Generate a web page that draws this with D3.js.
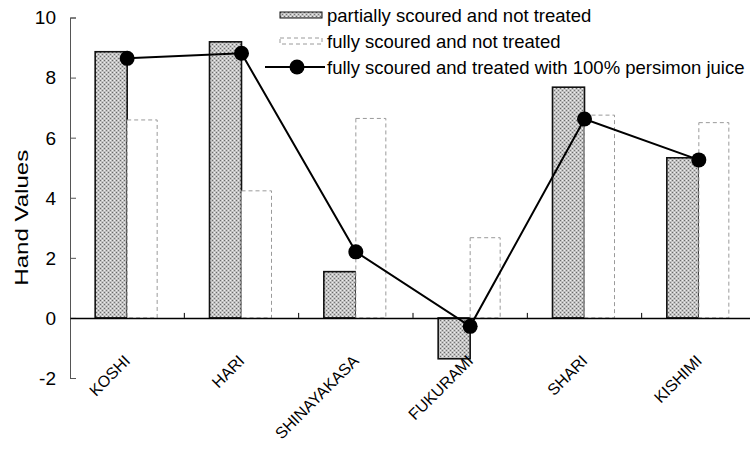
<!DOCTYPE html>
<html>
<head>
<meta charset="utf-8">
<script src="https://cdn.jsdelivr.net/npm/d3@7"></script>
<style>
  html, body { margin: 0; padding: 0; background: #fff; }
  svg { display: block; font-family: Arial, "Liberation Sans", sans-serif; }
</style>
</head>
<body>
<svg id="chart" width="750" height="450"></svg>
<script>
// ---- data ----
const categories = ["KOSHI", "HARI", "SHINAYAKASA", "FUKURAMI", "SHARI", "KISHIMI"];
const partialNotTreated = [8.86, 9.19, 1.54, -1.36, 7.68, 5.33];
const fullyNotTreated   = [6.59, 4.23, 6.64, 2.67, 6.75, 6.50];
const fullyTreated      = [8.64, 8.81, 2.20, -0.28, 6.62, 5.26];
const seriesNames = [
  "partially scoured and not treated",
  "fully scoured and not treated",
  "fully scoured and treated with 100% persimon juice"
];
const yTicks = [-2, 0, 2, 4, 6, 8, 10];

// ---- layout ----
const svg = d3.select("#chart");
const x = d3.scaleBand().domain(categories).range([70, 756]);
const y = d3.scaleLinear().domain([-2, 10]).range([378, 17.5]);
const barW = 32;

// pattern for stippled gray bars
const defs = svg.append("defs");
const pat = defs.append("pattern").attr("id", "stipple")
  .attr("patternUnits", "userSpaceOnUse").attr("width", 4).attr("height", 4);
pat.append("rect").attr("width", 4).attr("height", 4).attr("fill", "#c2c2c2");
pat.append("rect").attr("x", 0).attr("y", 0).attr("width", 1).attr("height", 1).attr("fill", "#6a6a6a");
pat.append("rect").attr("x", 2).attr("y", 2).attr("width", 1).attr("height", 1).attr("fill", "#777");
pat.append("rect").attr("x", 2).attr("y", 0).attr("width", 1).attr("height", 1).attr("fill", "#f0f0f0");
pat.append("rect").attr("x", 0).attr("y", 2).attr("width", 1).attr("height", 1).attr("fill", "#ececec");

// ---- y axis ----
const yAxisG = svg.append("g").attr("transform", "translate(70,0)")
  .call(d3.axisRight(y).tickValues(yTicks).tickSize(6).tickFormat(""));
yAxisG.select(".domain").attr("stroke", "#555").attr("stroke-width", 1);
yAxisG.selectAll(".tick line").attr("stroke", "#555");

svg.append("g").selectAll("text").data(yTicks).join("text")
  .attr("x", 56).attr("y", d => y(d)).attr("dy", "0.36em")
  .attr("text-anchor", "end").attr("font-size", 19).attr("fill", "#000")
  .text(d => d);

svg.append("text")
  .attr("transform", `translate(28,${(y(-2) + y(10)) / 2 + 20}) rotate(-90)`)
  .attr("text-anchor", "middle").attr("font-size", 18.5).attr("fill", "#000")
  .attr("textLength", 136).attr("lengthAdjust", "spacingAndGlyphs")
  .text("Hand Values");

// ---- bars ----
const cx = c => x(c) + x.bandwidth() / 2;

svg.append("g").selectAll("rect").data(categories).join("rect")
  .attr("x", c => cx(c) - barW)
  .attr("y", (c, i) => y(Math.max(0, partialNotTreated[i])))
  .attr("width", barW)
  .attr("height", (c, i) => Math.abs(y(partialNotTreated[i]) - y(0)))
  .attr("fill", "url(#stipple)").attr("stroke", "#111").attr("stroke-width", 1.6);

svg.append("g").selectAll("rect").data(categories).join("rect")
  .attr("x", c => cx(c))
  .attr("y", (c, i) => y(Math.max(0, fullyNotTreated[i])))
  .attr("width", barW - 2)
  .attr("height", (c, i) => Math.abs(y(fullyNotTreated[i]) - y(0)))
  .attr("fill", "#fff").attr("stroke", "#9a9a9a").attr("stroke-width", 1)
  .attr("stroke-dasharray", "4,3");

// ---- category axis (zero line) ----
const xAxisG = svg.append("g").attr("transform", `translate(0,${y(0)})`)
  .call(d3.axisTop(x).tickSize(0).tickFormat(""));
xAxisG.select(".domain").attr("stroke", "#000").attr("stroke-width", 1.5);
xAxisG.selectAll(".tick").remove();
svg.append("g").selectAll("line").data(categories.slice(1)).join("line")
  .attr("x1", c => x(c)).attr("x2", c => x(c))
  .attr("y1", y(0)).attr("y2", y(0) - 5)
  .attr("stroke", "#000").attr("stroke-width", 1);

svg.append("g").selectAll("text").data(categories).join("text")
  .attr("transform", c => `translate(${cx(c) + 4},${y(0) + 44}) rotate(-45)`)
  .attr("text-anchor", "end").attr("font-size", 16).attr("fill", "#000")
  .text(c => c);

// ---- line ----
const line = d3.line().x(c => cx(c)).y((c, i) => y(fullyTreated[i]));
svg.append("path").datum(categories).attr("d", line)
  .attr("fill", "none").attr("stroke", "#000").attr("stroke-width", 2);
svg.append("g").selectAll("circle").data(categories).join("circle")
  .attr("cx", c => cx(c)).attr("cy", (c, i) => y(fullyTreated[i]))
  .attr("r", 7.5).attr("fill", "#000");

// ---- legend ----
const leg = svg.append("g");
const rowY = [15, 41, 67];
leg.append("rect").attr("x", 280).attr("y", rowY[0] - 3).attr("width", 42).attr("height", 6)
  .attr("fill", "url(#stipple)").attr("stroke", "#111").attr("stroke-width", 1);
leg.append("rect").attr("x", 280).attr("y", rowY[1] - 3).attr("width", 42).attr("height", 6)
  .attr("fill", "#fff").attr("stroke", "#9a9a9a").attr("stroke-width", 1).attr("stroke-dasharray", "4,3");
leg.append("line").attr("x1", 265).attr("x2", 325).attr("y1", rowY[2]).attr("y2", rowY[2])
  .attr("stroke", "#000").attr("stroke-width", 2);
leg.append("circle").attr("cx", 297).attr("cy", rowY[2]).attr("r", 7.5).attr("fill", "#000");
leg.selectAll("text.lt").data(seriesNames).join("text").attr("class", "lt")
  .attr("x", 327).attr("y", (d, i) => rowY[i]).attr("dy", "0.36em")
  .attr("font-size", 18.5).attr("fill", "#000").text(d => d);
</script>
</body>
</html>
